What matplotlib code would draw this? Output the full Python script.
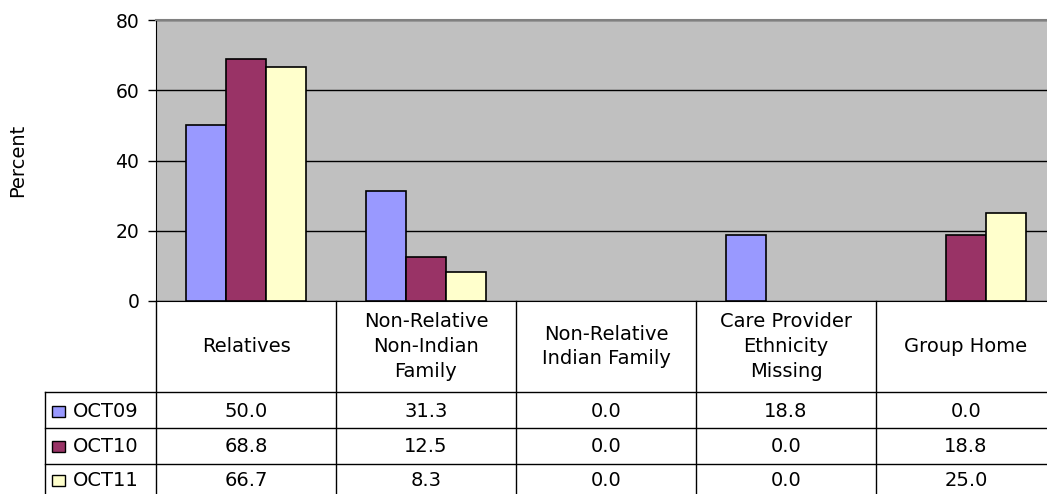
import matplotlib
matplotlib.use("Agg")
import matplotlib.pyplot as plt
from matplotlib.patches import Rectangle
from matplotlib.lines import Line2D
from matplotlib.transforms import blended_transform_factory
import numpy as np

categories = ["Relatives", "Non-Relative\nNon-Indian\nFamily", "Non-Relative\nIndian Family",
              "Care Provider\nEthnicity\nMissing", "Group Home"]
series_names = ["OCT09", "OCT10", "OCT11"]
oct09 = [50.0, 31.3, 0.0, 18.8, 0.0]
oct10 = [68.8, 12.5, 0.0, 0.0, 18.8]
oct11 = [66.7, 8.3, 0.0, 0.0, 25.0]
series_values = [oct09, oct10, oct11]
colors = ["#9999FF", "#993366", "#FFFFCC"]
yticks = [0, 20, 40, 60, 80]

W, H = 1047, 494
plt.rcParams["font.family"] = ["DejaVu Sans"]
fig = plt.figure(figsize=(W / 100, H / 100), dpi=100)

# plot area in pixel terms (left, top, right, zero line)
px_l, px_t, px_r, px_b = 156, 20, 1056, 301
ax = fig.add_axes([px_l / W, (H - px_b) / H, (px_r - px_l) / W, (px_b - px_t) / H])
ax.set_facecolor("#C0C0C0")

n = len(categories)
x = np.arange(n)
bw = 0.222
for i, (vals, col) in enumerate(zip(series_values, colors)):
    edge_w = [1.2 if v > 0 else 0 for v in vals]
    ax.bar(x + (i - 1) * bw, vals, width=bw, color=col, edgecolor="black",
           linewidth=edge_w, zorder=3)

ax.set_xlim(-0.5, n - 0.5)
ax.set_ylim(0, 80)
ax.set_yticks(yticks)
ax.set_yticklabels([str(t) for t in yticks], fontsize=13.5)
ax.yaxis.grid(True, color="black", linewidth=1.0, zorder=0)
ax.set_axisbelow(True)
ax.set_xticks([])
ax.tick_params(axis="y", direction="out", length=6, width=1, pad=6)
ax.spines["left"].set_color("black")
ax.spines["bottom"].set_color("black")
ax.spines["top"].set_color("#808080")
ax.spines["top"].set_linewidth(1.5)
ax.spines["right"].set_visible(False)
fig.text(18 / W, 1 - 160 / H, "Percent", rotation=90, ha="center", va="center", fontsize=14)

# data table under the plot
def fy(py):
    return 1 - py / H

def fx(px):
    return px / W

tr = blended_transform_factory(ax.transData, fig.transFigure)
row_lines = [392, 428, 464]
row_centers = [411, 446, 480]

for b in np.arange(n + 1) - 0.5:
    fig.add_artist(Line2D([b, b], [fy(px_b), fy(H + 2)], transform=tr, color="black", lw=1))
fig.add_artist(Line2D([fx(45), fx(45)], [fy(row_lines[0]), fy(H + 2)],
                      transform=fig.transFigure, color="black", lw=1))
for ry in row_lines:
    fig.add_artist(Line2D([fx(45), fx(W + 2)], [fy(ry), fy(ry)],
                          transform=fig.transFigure, color="black", lw=1))

for j, cat in enumerate(categories):
    fig.text(j, fy((px_b + row_lines[0]) / 2), cat, transform=tr, ha="center", va="center",
             fontsize=14, linespacing=1.4)

for i, (name, vals, col) in enumerate(zip(series_names, series_values, colors)):
    cy = row_centers[i]
    fig.add_artist(Rectangle((fx(52), fy(cy + 5.5)), 13 / W, 11 / H, transform=fig.transFigure,
                             facecolor=col, edgecolor="black", lw=1))
    fig.text(fx(73), fy(cy), name, ha="left", va="center", fontsize=14)
    for j, v in enumerate(vals):
        fig.text(j, fy(cy), f"{v:.1f}", transform=tr, ha="center", va="center", fontsize=14)

fig.savefig("out.png", dpi=100, facecolor="white")
